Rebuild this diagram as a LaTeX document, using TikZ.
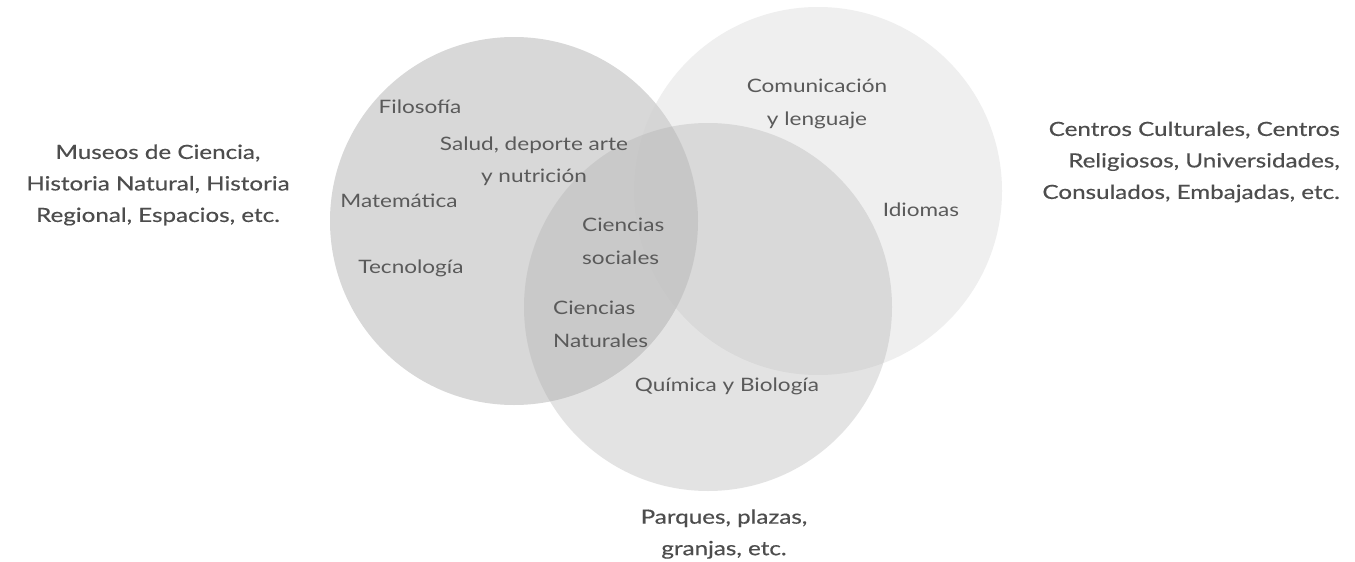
\documentclass[tikz,border=0pt]{standalone}
\usepackage{fontspec}
\setmainfont{Lato}
\newfontfamily\innerfont{Lato}[FakeStretch=1.22]
\newfontfamily\outerfont{Lato}[FakeStretch=1.24,FakeBold=0.4]
\definecolor{leftfill}{gray}{0.847}
\definecolor{rightfill}{gray}{0.81}
\definecolor{botfill}{gray}{0.68}
\definecolor{innertext}{HTML}{5A5A5A}
\definecolor{outertext}{HTML}{4D4D4D}
\begin{document}
\begin{tikzpicture}[x=1pt,y=-1pt,
  circ/.style={circle,minimum size=368pt,inner sep=0pt,draw=none},
  inner/.style={inner sep=0pt,text=innertext,font=\innerfont\fontsize{18.5}{32.5}\selectfont},
  outer/.style={inner sep=0pt,text=outertext,font=\outerfont\fontsize{19.5}{31.5}\selectfont}]
\useasboundingbox[fill=white] (0,0) rectangle (1355,562);
% circles
\node[circ,fill=leftfill] (cleft) at (514,221) {};
\node[circ,fill=rightfill,fill opacity=0.333] (cright) at (818,191) {};
\node[circ,fill=botfill,fill opacity=0.333] (cbot) at (708,307) {};
% inner labels
\node[inner] (filo) at (420,107) {Filosofía};
\node[inner,align=center] (salud) at (534,161.5) {Salud, deporte arte\\y nutrición};
\node[inner] (mate) at (399,201) {Matemática};
\node[inner] (tecno) at (411,268) {Tecnología};
\node[inner,align=left,anchor=west] (csoc) at (582,241.5) {Ciencias\\sociales};
\node[inner,align=left,anchor=west] (cnat) at (553,324.5) {Ciencias\\Naturales};
\node[inner] (quim) at (727,386) {Química y Biología};
\node[inner,align=center] (comu) at (817,104) {Comunicación\\y lenguaje};
\node[inner] (idio) at (921,210) {Idiomas};
% outer labels
\node[outer,align=center] (museos) at (158,185) {Museos de Ciencia,\\Historia Natural, Historia\\Regional, Espacios, etc.};
\node[outer,align=right,anchor=east] (centros) at (1340,162) {Centros Culturales, Centros\\Religiosos, Universidades,\\Consulados, Embajadas, etc.};
\node[outer,align=center] (parques) at (724,534) {Parques, plazas,\\granjas, etc.};
\end{tikzpicture}
\end{document}
